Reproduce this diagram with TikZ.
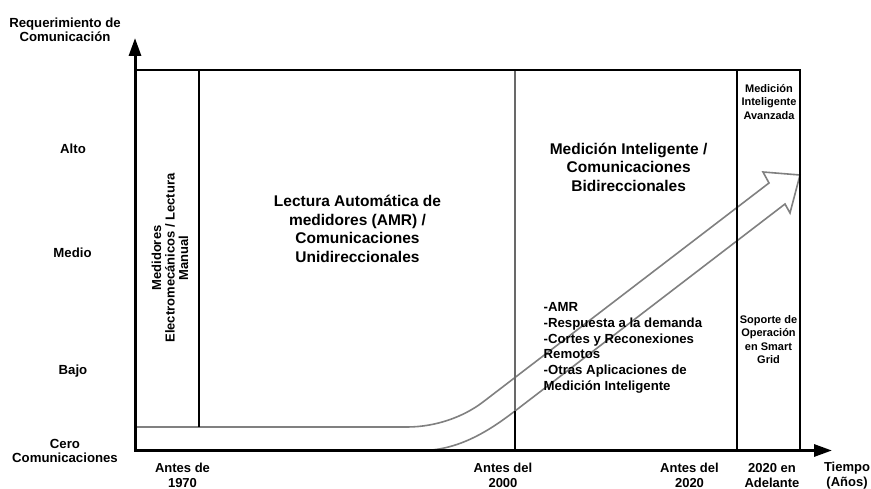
\documentclass[tikz,border=0pt]{standalone}
\usepackage{fontspec}
\setmainfont{Liberation Sans}
\usetikzlibrary{arrows.meta}
\definecolor{bandgray}{RGB}{128,128,128}
\definecolor{divgray}{RGB}{105,105,105}
\begin{document}
\begin{tikzpicture}[x=1pt,y=-1pt,
  axisline/.style={line width=3pt,
    {Triangle[length=18pt,width=12pt]}-{Triangle[length=18pt,width=12pt]}},
  frameline/.style={line width=2.8pt},
  divider/.style={line width=2.2pt},
  softdivider/.style={line width=1.4pt, draw=divgray},
  band/.style={draw=bandgray, line width=1.6pt, fill=white, line join=miter},
  txt/.style={inner sep=0pt, align=center},
  ylabel/.style={txt, font=\bfseries\fontsize{13.2}{14.5}\selectfont},
  xlabel/.style={txt, font=\bfseries\fontsize{13}{14.8}\selectfont},
  eratitle/.style={txt, font=\bfseries\fontsize{15.5}{18.5}\selectfont},
  smallnote/.style={txt, font=\bfseries\fontsize{11}{13.4}\selectfont},
  listnote/.style={inner sep=0pt, align=left, font=\bfseries\fontsize{13.2}{15.8}\selectfont},
  vertnote/.style={txt, rotate=90, font=\bfseries\fontsize{13}{13.4}\selectfont},
]
\useasboundingbox[fill=white] (0,0) rectangle (871,489);

% key points of the chart
\coordinate (ytip) at (135,38);
\coordinate (orig) at (135,450.5);
\coordinate (xtip) at (832,450.5);
\coordinate (lowbend) at (515,411);

% rising band arrow (drawn first, the frame sits on top)
\draw[band] (136,427) -- (407,427)
  .. controls (435,427) and (463,417.3) .. (483,402)
  -- (769,183) -- (763,172) -- (800,175) -- (790,213) -- (785,204)
  -- (lowbend)
  .. controls (492,428.6) and (462,449) .. (425,450.5)
  -- (136,450.5) -- cycle;

% era dividers
\draw[softdivider] (515,70) -- (lowbend);
\draw[divider] (lowbend) -- (515,450.5);
\draw[divider] (199,70) -- (199,427);
\draw[frameline] (737,70) -- (737,450.5);
\draw[frameline] (800,70) -- (800,450.5);
\draw[frameline] (135,70) -- (801.4,70);

% axes
\draw[axisline] (ytip) -- (orig) -- (xtip);

% vertical axis labels
\node[ylabel] (yaxis) at (65,29.7) {Requerimiento de\\Comunicación};
\node[ylabel] (alto) at (73,148.5) {Alto};
\node[ylabel] (medio) at (72.5,252.5) {Medio};
\node[ylabel] (bajo) at (73,371.5) {Bajo};
\node[ylabel] (cero) at (65,451) {Cero\\Comunicaciones};

% horizontal axis labels
\node[xlabel] (t1970) at (182.5,475) {Antes de\\1970};
\node[xlabel] (t2000) at (503,475) {Antes del\\2000};
\node[xlabel] (t2020) at (689.5,475.5) {Antes del\\2020};
\node[xlabel] (tlater) at (772,475.5) {2020 en\\Adelante};
\node[xlabel] (xaxis) at (847,475.5) {Tiempo\\(Años)};

% era titles
\node[vertnote] (manual) at (170,258) {Medidores\\Electromecánicos / Lectura\\Manual};
\node[eratitle] (amr) at (357.5,229) {Lectura Automática de\\medidores (AMR) /\\Comunicaciones\\Unidireccionales};
\node[eratitle] (smart) at (628.6,167) {Medición Inteligente /\\Comunicaciones\\Bidireccionales};
\node[smallnote] (advanced) at (769,101.7) {Medición\\Inteligente\\Avanzada};
\node[smallnote] (support) at (768.5,339.7) {Soporte de\\Operación\\en Smart\\Grid};

% applications list
\node[listnote, anchor=west] (apps) at (543.5,347.8) {-AMR\\-Respuesta a la demanda\\-Cortes y Reconexiones\\Remotos\\-Otras Aplicaciones de\\Medición Inteligente};
\end{tikzpicture}
\end{document}
